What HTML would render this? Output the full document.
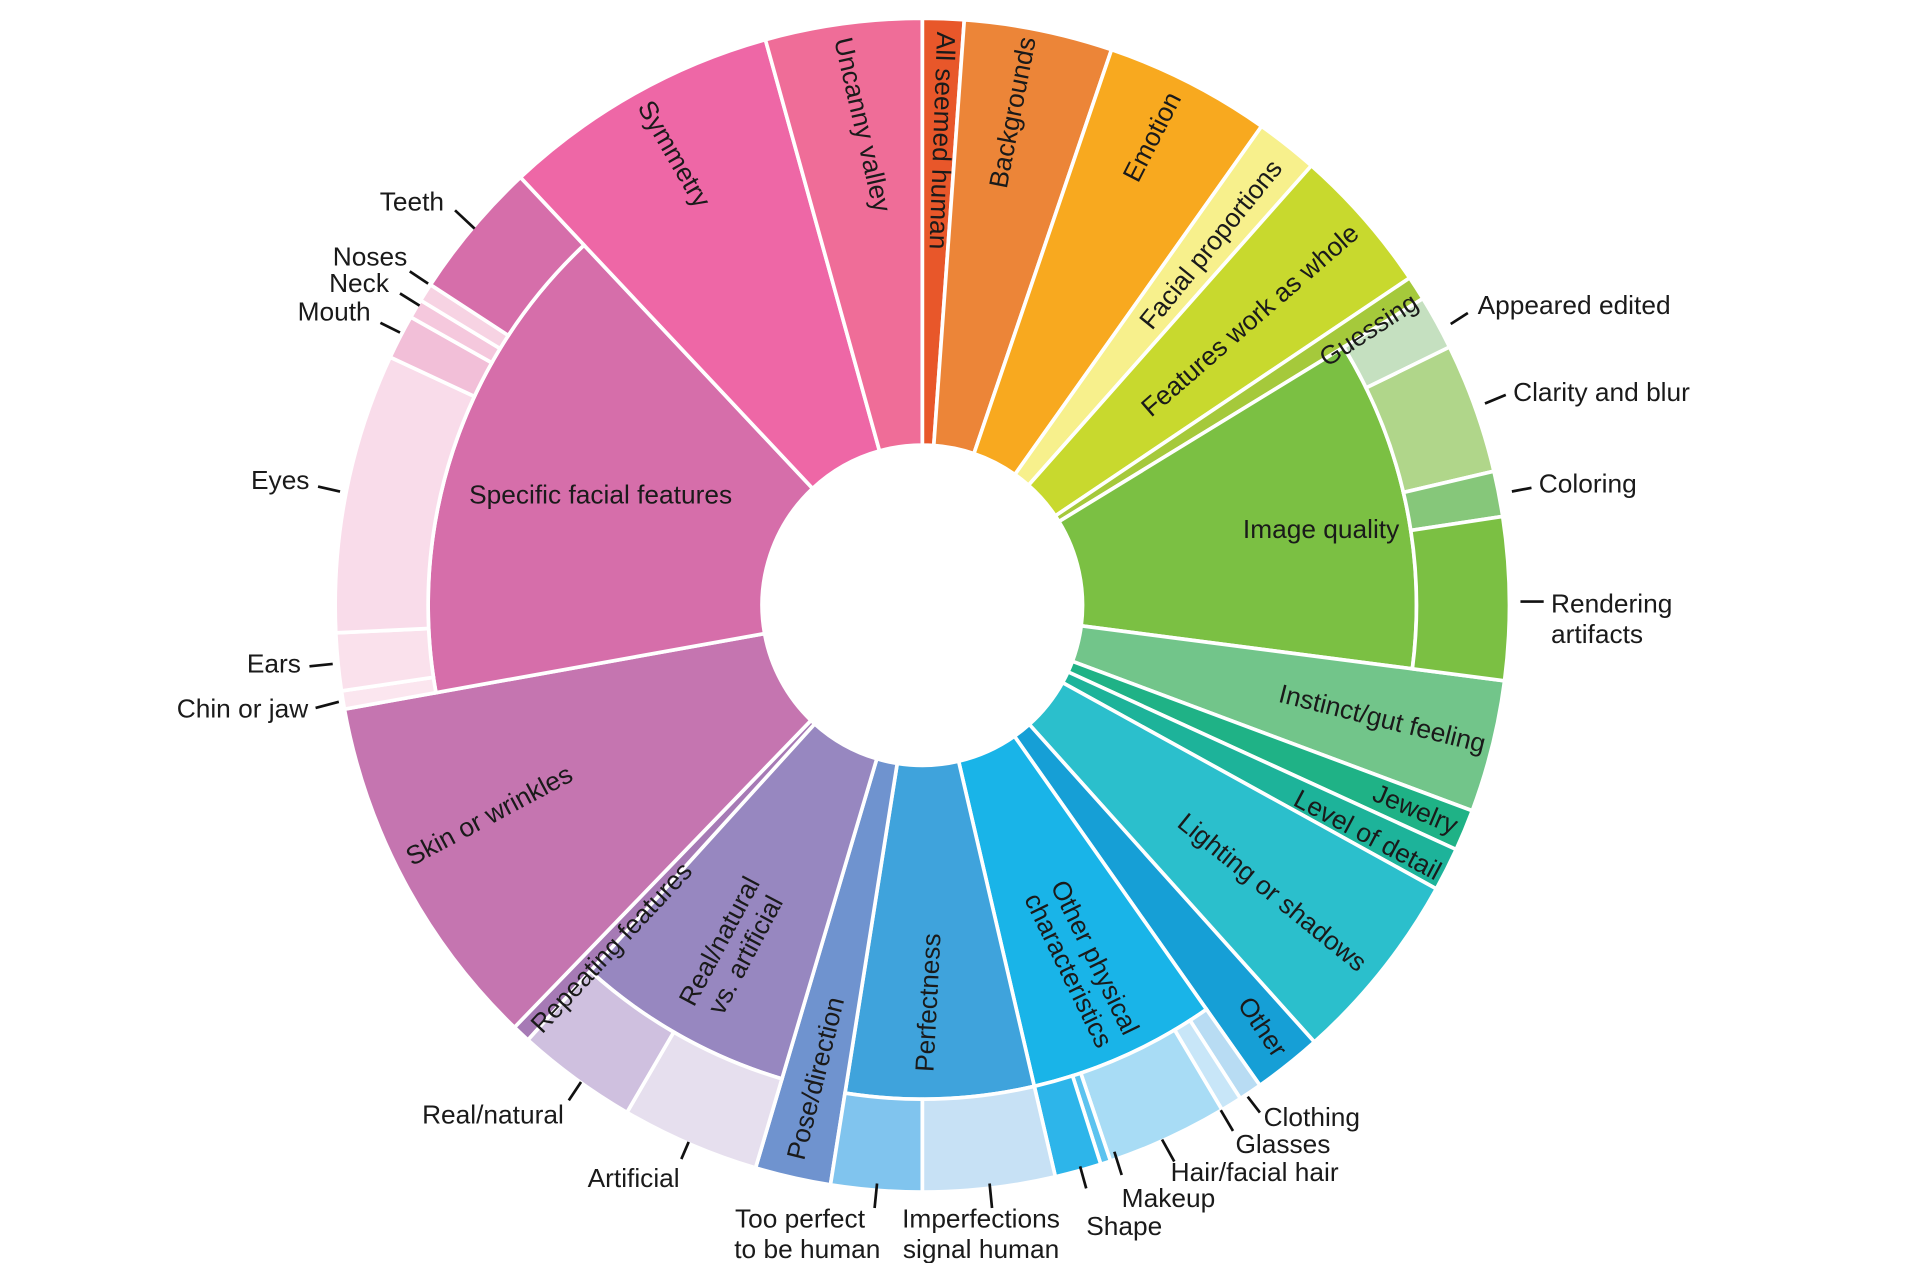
<!DOCTYPE html>
<html><head><meta charset="utf-8">
<style>
html,body{margin:0;padding:0;background:#fff;}
svg{display:block;}
text{font-family:"Liberation Sans",Arial,sans-serif;font-size:21.5px;fill:#1a1a1a;}
</style></head>
<body>
<svg id="s" width="1918" height="1263" viewBox="0 0 1568 1033" preserveAspectRatio="none" xmlns="http://www.w3.org/2000/svg">
<g id="w"></g>
<g stroke="#111" stroke-width="2.2">
<line x1="372" y1="172" x2="388" y2="187"/>
<line x1="335" y1="222" x2="350" y2="232"/>
<line x1="327" y1="240" x2="343" y2="250"/>
<line x1="311" y1="264" x2="327" y2="272"/>
<line x1="260" y1="398" x2="278" y2="402"/>
<line x1="253" y1="545" x2="272" y2="543"/>
<line x1="258" y1="579" x2="277" y2="574"/>
<line x1="1186" y1="265" x2="1200" y2="256"/>
<line x1="1214" y1="330" x2="1231" y2="323"/>
<line x1="1236" y1="402" x2="1252" y2="399"/>
<line x1="1243" y1="492" x2="1262" y2="492"/>
<line x1="1020" y1="897" x2="1030" y2="910"/>
<line x1="998" y1="908" x2="1008" y2="925"/>
<line x1="950" y1="932" x2="960" y2="950"/>
<line x1="911" y1="942" x2="917" y2="961"/>
<line x1="883" y1="954" x2="888" y2="972"/>
<line x1="717" y1="968" x2="715" y2="988"/>
<line x1="809" y1="968" x2="811" y2="988"/>
<line x1="563" y1="934" x2="557" y2="948"/>
<line x1="475" y1="885" x2="465" y2="900"/>
</g>
<g>
<text x="363" y="172" text-anchor="end">Teeth</text>
<text x="333" y="217" text-anchor="end">Noses</text>
<text x="318" y="239" text-anchor="end">Neck</text>
<text x="303" y="262" text-anchor="end">Mouth</text>
<text x="253" y="400" text-anchor="end">Eyes</text>
<text x="246" y="550" text-anchor="end">Ears</text>
<text x="252" y="587" text-anchor="end">Chin or jaw</text>
<text x="1208" y="257">Appeared edited</text>
<text x="1237" y="328">Clarity and blur</text>
<text x="1258" y="403">Coloring</text>
<text x="1268" y="501">Rendering</text>
<text x="1268" y="526">artifacts</text>
<text x="1033" y="921">Clothing</text>
<text x="1010" y="943">Glasses</text>
<text x="957" y="966">Hair/facial hair</text>
<text x="917" y="987">Makeup</text>
<text x="888" y="1010">Shape</text>
<text x="654" y="1004" text-anchor="middle">Too perfect</text>
<text x="660" y="1029" text-anchor="middle">to be human</text>
<text x="802" y="1004" text-anchor="middle">Imperfections</text>
<text x="802" y="1029" text-anchor="middle">signal human</text>
<text x="518" y="971" text-anchor="middle">Artificial</text>
<text x="403" y="919" text-anchor="middle">Real/natural</text>

<text text-anchor="middle" transform="translate(770,115) rotate(92)" dy="7">All seemed human</text>
<text text-anchor="middle" transform="translate(828,92) rotate(-79)" dy="7">Backgrounds</text>
<text text-anchor="middle" transform="translate(942,112) rotate(-63)" dy="7">Emotion</text>
<text text-anchor="middle" transform="translate(990,200) rotate(-51)" dy="7">Facial proportions</text>
<text text-anchor="middle" transform="translate(1022,262) rotate(-41)" dy="7">Features work as whole</text>
<text text-anchor="middle" transform="translate(1119,270) rotate(-33)" dy="7">Guessing</text>
<text text-anchor="middle" transform="translate(1080,433)" dy="7">Image quality</text>
<text text-anchor="middle" transform="translate(1130,588) rotate(14)" dy="7">Instinct/gut feeling</text>
<text text-anchor="middle" transform="translate(1157,662) rotate(23)" dy="7">Jewelry</text>
<text text-anchor="middle" transform="translate(1118,683) rotate(28)" dy="7">Level of detail</text>
<text text-anchor="middle" transform="translate(1040,730) rotate(39)" dy="7">Lighting or shadows</text>
<text text-anchor="middle" transform="translate(1032,840) rotate(56)" dy="7">Other</text>
<text text-anchor="middle" transform="translate(885,788) rotate(64)"><tspan x="0" dy="-4">Other physical</tspan><tspan x="0" dy="24">characteristics</tspan></text>
<text text-anchor="middle" transform="translate(759,820) rotate(-87)" dy="7">Perfectness</text>
<text text-anchor="middle" transform="translate(667,882) rotate(-76)" dy="7">Pose/direction</text>
<text text-anchor="middle" transform="translate(598,775) rotate(-62)"><tspan x="0" dy="-4">Real/natural</tspan><tspan x="0" dy="24">vs. artificial</tspan></text>
<text text-anchor="middle" transform="translate(500,775) rotate(-47)" dy="7">Repeating features</text>
<text text-anchor="middle" transform="translate(400,667) rotate(-28)" dy="7">Skin or wrinkles</text>
<text text-anchor="middle" transform="translate(491,405)" dy="7">Specific facial features</text>
<text text-anchor="middle" transform="translate(551,126) rotate(60)" dy="7">Symmetry</text>
<text text-anchor="middle" transform="translate(705,102) rotate(77)" dy="7">Uncanny valley</text>
</g>
</svg>
<script>
(function(){
var cx=754,cy=495,r0=131,r1=404,r2=480;
function pt(r,a){a=a*Math.PI/180;return [cx+r*Math.sin(a),cy-r*Math.cos(a)];}
function wedge(ri,ro,a0,a1,c){
 var p1=pt(ri,a0),p2=pt(ro,a0),p3=pt(ro,a1),p4=pt(ri,a1),lg=(a1-a0)>180?1:0;
 return '<path d="M'+p1+' L'+p2+' A'+ro+','+ro+' 0 '+lg+' 1 '+p3+' L'+p4+' A'+ri+','+ri+' 0 '+lg+' 0 '+p1+' Z" fill="'+c+'" stroke="#fff" stroke-width="3"/>';
}
var top=[
[0,4.1,'#e8572a',0],[4.1,18.8,'#ec8538',0],[18.8,35.3,'#f8a91f',0],[35.3,41.5,'#f7f08c',0],
[41.5,56.1,'#c8d92e',0],[56.1,58.5,'#a5c93b',0],[58.5,97.4,'#7bc043',1],[97.4,110.5,'#72c58a',0],
[110.5,114.6,'#1fb286',0],[114.6,118.9,'#1db39a',0],[118.9,138.1,'#2bbfcc',0],[138.1,144.9,'#169fd6',0],
[144.9,166.9,'#19b4e8',1],[166.9,189,'#3fa3dc',1],[189,196.5,'#6f93cf',0],[196.5,222.2,'#9787c0',1],
[222.2,224,'#a67ab5',0],[224,259.8,'#c575b0',0],[259.8,316.8,'#d66eaa',1],[316.8,344.5,'#ee67a6',0],[344.5,360,'#ef6d98',0]];
var ch=[
[58.5,63.9,'#c5e0c0'],[63.9,76.8,'#b0d68a'],[76.8,81.3,'#86c77a'],[81.3,97.4,'#7bc043'],
[144.9,147.2,'#b8dcf3'],[147.2,149.3,'#c8e6f8'],[149.3,161.3,'#a8dcf5'],[161.3,162.3,'#5cc3ef'],[162.3,166.9,'#2db5ea'],
[166.9,180,'#c7e1f5'],[180,189,'#80c4ee'],
[196.5,210.2,'#e6dfee'],[210.2,222.2,'#cfc0df'],
[259.8,261.6,'#fbe6ef'],[261.6,267.3,'#fae1ec'],[267.3,295,'#f9dcea'],[295,299.4,'#f2bfd8'],[299.4,301.3,'#f5c8dd'],[301.3,303.1,'#f7d3e3'],[303.1,316.8,'#d66eaa']];
var h='';
top.forEach(function(t){h+=wedge(r0,t[3]?r1:r2,t[0],t[1],t[2]);});
ch.forEach(function(t){h+=wedge(r1,r2,t[0],t[1],t[2]);});
document.getElementById('w').innerHTML=h;
})();
</script>
</body></html>
